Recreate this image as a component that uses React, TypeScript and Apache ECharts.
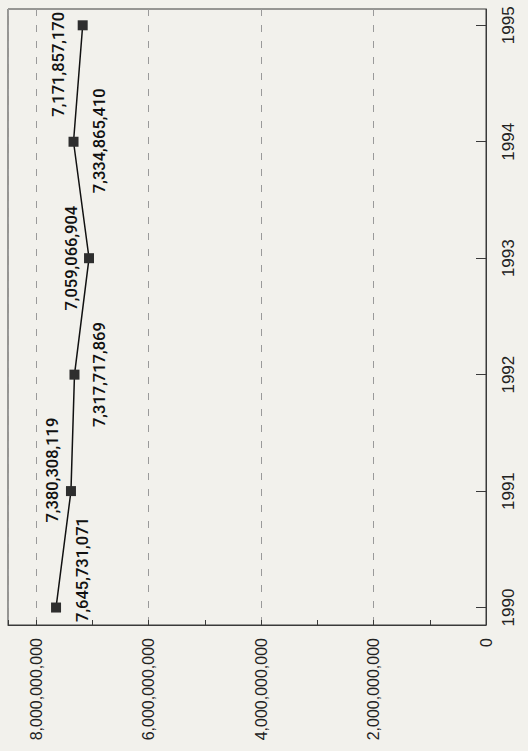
import React, { useEffect, useRef } from "react";
import * as echarts from "echarts";

const years = [1990, 1991, 1992, 1993, 1994, 1995];
const values = [7645731071, 7380308119, 7317717869, 7059066904, 7334865410, 7171857170];
const valueAxisMax = 8500000000;
const valueAxisStep = 2000000000;
const minorStep = 1000000000;

// label placement (screen dx, dy from the marker centre), layout only
const labelShift = [
  [26, -38],
  [-18, -21],
  [25, 0],
  [-18, 0],
  [26, -1],
  [-24, 39],
];

const fmt = (v: number) => String(Math.round(v)).replace(/\B(?=(\d{3})+(?!\d))/g, ",");

export default function App() {
  const ref = useRef<HTMLDivElement>(null);
  useEffect(() => {
    const chart = echarts.init(ref.current!, null, { renderer: "svg" });
    const axisColor = "#3a3a3a";
    chart.setOption({
      animation: false,
      backgroundColor: "#f2f1ec",
      grid: {
        left: 8,
        top: 9,
        width: 478,
        height: 616,
        show: true,
        borderColor: axisColor,
        borderWidth: 1,
        backgroundColor: "transparent",
      },
      xAxis: [
        {
          type: "value",
          inverse: true,
          min: 0,
          max: valueAxisMax,
          interval: valueAxisStep,
          position: "bottom",
          axisLine: { show: true, lineStyle: { color: axisColor, width: 1 } },
          axisTick: { show: false },
          axisLabel: {
            rotate: 90,
            margin: 13,
            fontSize: 16,
            fontFamily: "'Liberation Sans', Arial, sans-serif",
            color: "#222",
            showMaxLabel: false,
            formatter: (v: number) => fmt(v),
          },
          splitLine: { show: true, lineStyle: { color: "#9a9a9a", type: [7, 9], width: 1 } },
        },
        {
          type: "value",
          inverse: true,
          min: 0,
          max: valueAxisMax,
          interval: minorStep,
          position: "bottom",
          axisLine: { show: false },
          axisTick: { show: true, inside: true, length: 5, lineStyle: { color: axisColor } },
          axisLabel: { show: false },
          splitLine: { show: false },
        },
      ],
      yAxis: {
        type: "value",
        min: 1989.85,
        max: 1995.14,
        minInterval: 1,
        maxInterval: 1,
        position: "right",
        axisLine: { show: true, lineStyle: { color: axisColor, width: 1 } },
        axisTick: { show: true, inside: true, length: 10, lineStyle: { color: axisColor } },
        axisLabel: {
          rotate: 90,
          margin: 14,
          fontSize: 17,
          fontFamily: "'Liberation Sans', Arial, sans-serif",
          color: "#222",
          showMinLabel: false,
          showMaxLabel: false,
          formatter: (v: number) => String(Math.round(v)),
        },
        splitLine: { show: false },
      },
      series: [
        {
          type: "line",
          xAxisIndex: 0,
          symbol: "rect",
          symbolSize: 10,
          itemStyle: { color: "#2e2e2e" },
          lineStyle: { color: "#111", width: 1.5 },
          label: {
            show: true,
            position: "inside",
            rotate: 90,
            align: "center",
            verticalAlign: "middle",
            fontSize: 16.5,
            fontWeight: 500,
            fontFamily: "Roboto, 'Liberation Sans', sans-serif",
            color: "#111",
            formatter: (p: any) => fmt(p.value[0]),
          },
          data: values.map((v, i) => ({
            value: [v, years[i]],
            label: { offset: [-labelShift[i][1], labelShift[i][0]] },
          })),
        },
      ],
    });
    return () => chart.dispose();
  }, []);
  return (
    <div
      ref={ref}
      style={{ position: "absolute", left: 0, top: 0, width: 528, height: 751 }}
    />
  );
}
